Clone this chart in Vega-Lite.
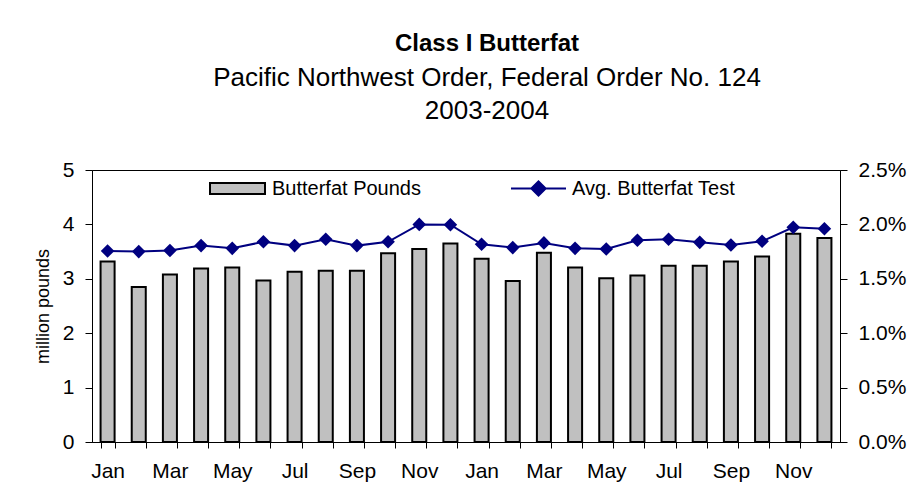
{
  "$schema": "https://vega.github.io/schema/vega-lite/v6.json",
  "autosize": {"type": "none"},
  "width": 748,
  "height": 272,
  "padding": {"left": 92, "top": 170, "right": 84, "bottom": 58},
  "background": "white",
  "title": {
    "text": "Class I Butterfat",
    "subtitle": ["Pacific Northwest Order, Federal Order No. 124", "2003-2004"],
    "anchor": "middle",
    "frame": "group",
    "dx": 21,
    "offset": 35,
    "font": "Liberation Sans",
    "fontSize": 24,
    "fontWeight": "bold",
    "color": "black",
    "subtitleFont": "Liberation Sans",
    "subtitleFontSize": 26,
    "subtitleColor": "black",
    "subtitleLineHeight": 33,
    "subtitlePadding": 9
  },
  "data": {
    "values": [
      {"month": "Jan 2003", "pounds": 3.32, "test": 0.01756},
      {"month": "Feb 2003", "pounds": 2.85, "test": 0.01750},
      {"month": "Mar 2003", "pounds": 3.08, "test": 0.01760},
      {"month": "Apr 2003", "pounds": 3.19, "test": 0.01805},
      {"month": "May 2003", "pounds": 3.21, "test": 0.01780},
      {"month": "Jun 2003", "pounds": 2.97, "test": 0.01840},
      {"month": "Jul 2003", "pounds": 3.13, "test": 0.01805},
      {"month": "Aug 2003", "pounds": 3.15, "test": 0.01863},
      {"month": "Sep 2003", "pounds": 3.15, "test": 0.01805},
      {"month": "Oct 2003", "pounds": 3.47, "test": 0.01840},
      {"month": "Nov 2003", "pounds": 3.55, "test": 0.02000},
      {"month": "Dec 2003", "pounds": 3.65, "test": 0.01997},
      {"month": "Jan 2004", "pounds": 3.37, "test": 0.01817},
      {"month": "Feb 2004", "pounds": 2.96, "test": 0.01787},
      {"month": "Mar 2004", "pounds": 3.48, "test": 0.01830},
      {"month": "Apr 2004", "pounds": 3.21, "test": 0.01780},
      {"month": "May 2004", "pounds": 3.01, "test": 0.01774},
      {"month": "Jun 2004", "pounds": 3.06, "test": 0.01854},
      {"month": "Jul 2004", "pounds": 3.24, "test": 0.01863},
      {"month": "Aug 2004", "pounds": 3.24, "test": 0.01835},
      {"month": "Sep 2004", "pounds": 3.32, "test": 0.01810},
      {"month": "Oct 2004", "pounds": 3.41, "test": 0.01845},
      {"month": "Nov 2004", "pounds": 3.83, "test": 0.01973},
      {"month": "Dec 2004", "pounds": 3.75, "test": 0.01960}
    ]
  },
  "encoding": {
    "x": {
      "field": "month",
      "type": "ordinal",
      "sort": null,
      "scale": {"paddingInner": 0.55, "paddingOuter": 0.275},
      "axis": {
        "title": null,
        "tickBand": "extent",
        "labelAngle": 0,
        "labelOverlap": false,
        "labelExpr": "isString(datum.value) && test(/^(Jan|Mar|May|Jul|Sep|Nov)/, datum.value) ? substring(datum.value, 0, 3) : ''",
        "labelFont": "Liberation Sans",
        "labelFontSize": 21,
        "labelColor": "black",
        "labelPadding": 12,
        "tickSize": 6,
        "tickColor": "black",
        "domainColor": "black",
        "grid": false
      }
    }
  },
  "layer": [
    {
      "mark": {"type": "bar", "stroke": "black", "strokeWidth": 2},
      "encoding": {
        "y": {
          "field": "pounds",
          "type": "quantitative",
          "scale": {"domain": [0, 5], "nice": false},
          "axis": {
            "title": "million pounds",
            "titleFont": "Liberation Sans",
            "titleFontSize": 18,
            "titleFontWeight": "normal",
            "titleColor": "black",
            "titlePadding": 10,
            "values": [0, 1, 2, 3, 4, 5],
            "labelFont": "Liberation Sans",
            "labelFontSize": 21,
            "labelColor": "black",
            "labelPadding": 11,
            "tickSize": 7,
            "tickColor": "black",
            "domainColor": "black",
            "grid": false
          }
        },
        "fill": {
          "datum": "Butterfat Pounds",
          "type": "nominal",
          "scale": {"range": ["#c0c0c0"]},
          "legend": {
            "title": null,
            "orient": "none",
            "legendX": 117,
            "legendY": -10,
            "padding": 0,
            "symbolType": "M-1,-0.2H1V0.2H-1Z",
            "symbolSize": 3025,
            "symbolStrokeColor": "black",
            "symbolStrokeWidth": 2,
            "labelFont": "Liberation Sans",
            "labelFontSize": 20,
            "labelColor": "black",
            "labelLimit": 300,
            "labelOffset": 6
          }
        }
      }
    },
    {
      "layer": [
        {
          "mark": {"type": "line", "strokeWidth": 2},
          "encoding": {
            "y": {
              "field": "test",
              "type": "quantitative",
              "scale": {"domain": [0, 0.025], "nice": false},
              "axis": {
                "orient": "right",
                "title": null,
                "format": ".1%",
                "values": [0, 0.005, 0.01, 0.015, 0.02, 0.025],
                "labelFont": "Liberation Sans",
                "labelFontSize": 21,
                "labelColor": "black",
                "labelPadding": 11,
                "tickSize": 7,
                "tickColor": "black",
                "domainColor": "black",
                "grid": false
              }
            },
            "stroke": {
              "datum": "Avg. Butterfat Test",
              "type": "nominal",
              "scale": {"range": ["#000080"]},
              "legend": {
                "title": null,
                "orient": "none",
                "legendX": 418,
                "legendY": -10,
                "padding": 0,
                "symbolType": "M-1,0H1M-0.26,0L0,-0.26L0.26,0L0,0.26Z",
                "symbolSize": 3025,
                "symbolFillColor": "#000080",
                "symbolStrokeWidth": 2,
                "labelFont": "Liberation Sans",
                "labelFontSize": 20,
                "labelColor": "black",
                "labelLimit": 300,
                "labelOffset": 5
              }
            }
          }
        },
        {
          "mark": {"type": "point", "shape": "diamond", "size": 185, "filled": true, "color": "#000080", "opacity": 1},
          "encoding": {
            "y": {"field": "test", "type": "quantitative"}
          }
        }
      ]
    }
  ],
  "resolve": {"scale": {"y": "independent"}},
  "config": {
    "view": {"stroke": "black", "strokeWidth": 1}
  }
}
